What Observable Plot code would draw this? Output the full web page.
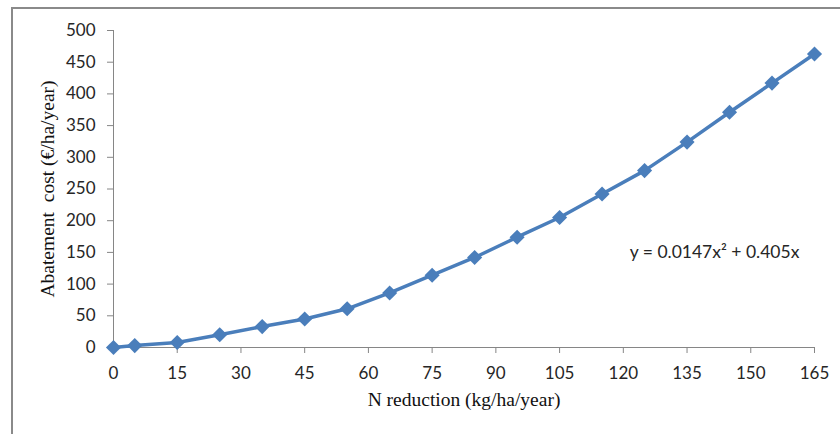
<!DOCTYPE html>
<html>
<head>
<meta charset="utf-8">
<script src="https://cdn.jsdelivr.net/npm/d3@7"></script>
<script src="https://cdn.jsdelivr.net/npm/@observablehq/plot@0.6"></script>
<style>
  html, body { margin: 0; padding: 0; background: #fff; }
  #wrap { position: relative; width: 840px; height: 434px; overflow: hidden; }
  #frame { position: absolute; left: 11px; top: 7px; width: 900px; height: 500px;
           border-left: 2px solid #8a8a8a; border-top: 2px solid #8a8a8a; }
  #chart { position: absolute; left: 0; top: 0; }
</style>
</head>
<body>
<div id="wrap"><div id="frame"></div><div id="chart"></div></div>
<script>
// N reduction (kg/ha/year)
const nReduction = [0, 5, 15, 25, 35, 45, 55, 65, 75, 85, 95, 105, 115, 125, 135, 145, 155, 165];
// Abatement cost (€/ha/year)
const abatementCost = [0, 3, 8, 20, 33, 45, 61, 86, 114, 142, 174, 205, 242, 279, 324, 371, 417, 463];
const xTicks = [0, 15, 30, 45, 60, 75, 90, 105, 120, 135, 150, 165];
const yTicks = [0, 50, 100, 150, 200, 250, 300, 350, 400, 450, 500];
const xTitle = "N reduction (kg/ha/year)";
const yTitle = "Abatement  cost (€/ha/year)";
const equation = [{x: 121.5, y: 150, label: "y = 0.0147x² + 0.405x"}];

const data = nReduction.map((x, i) => ({x, y: abatementCost[i]}));
const blue = "#4a7ebb";
const axisGray = "#868686";
const sans = "Lato, 'Open Sans', sans-serif";
const serif = "'Liberation Serif', 'DejaVu Serif', serif";

const chart = Plot.plot({
  width: 840,
  height: 434,
  marginLeft: 113,
  marginRight: 26,
  marginTop: 30,
  marginBottom: 87,
  style: {fontFamily: sans, fontSize: "17px", color: "#262626", background: "transparent"},
  x: {domain: [0, 165]},
  y: {domain: [0, 500]},
  marks: [
    Plot.ruleX([0], {stroke: axisGray, strokeWidth: 1}),
    Plot.ruleY([0], {stroke: axisGray, strokeWidth: 1}),
    Plot.axisX({ticks: xTicks, tickSize: 6, tickPadding: 13, stroke: axisGray, label: null, fontSize: 17, fill: "#262626"}),
    Plot.axisY({ticks: yTicks, tickSize: 6, tickPadding: 12, stroke: axisGray, label: null, fontSize: 17, fill: "#262626"}),
    Plot.line(data, {x: "x", y: "y", stroke: blue, strokeWidth: 3.5}),
    Plot.dot(data, {x: "x", y: "y", symbol: "diamond2", r: 6.8, fill: blue, stroke: "none"}),
    Plot.text(equation, {x: "x", y: "y", text: "label", textAnchor: "start", fontSize: 17.5, fill: "#262626", fontFamily: sans}),
    Plot.text([xTitle], {frameAnchor: "bottom", dy: 58, fontFamily: serif, fontSize: 19.5, fill: "#111"}),
    Plot.text([yTitle], {frameAnchor: "left", textAnchor: "middle", dx: -66, rotate: -90, fontFamily: serif, fontSize: 19.5, fill: "#111"})
  ]
});
document.getElementById("chart").appendChild(chart);
</script>
</body>
</html>
